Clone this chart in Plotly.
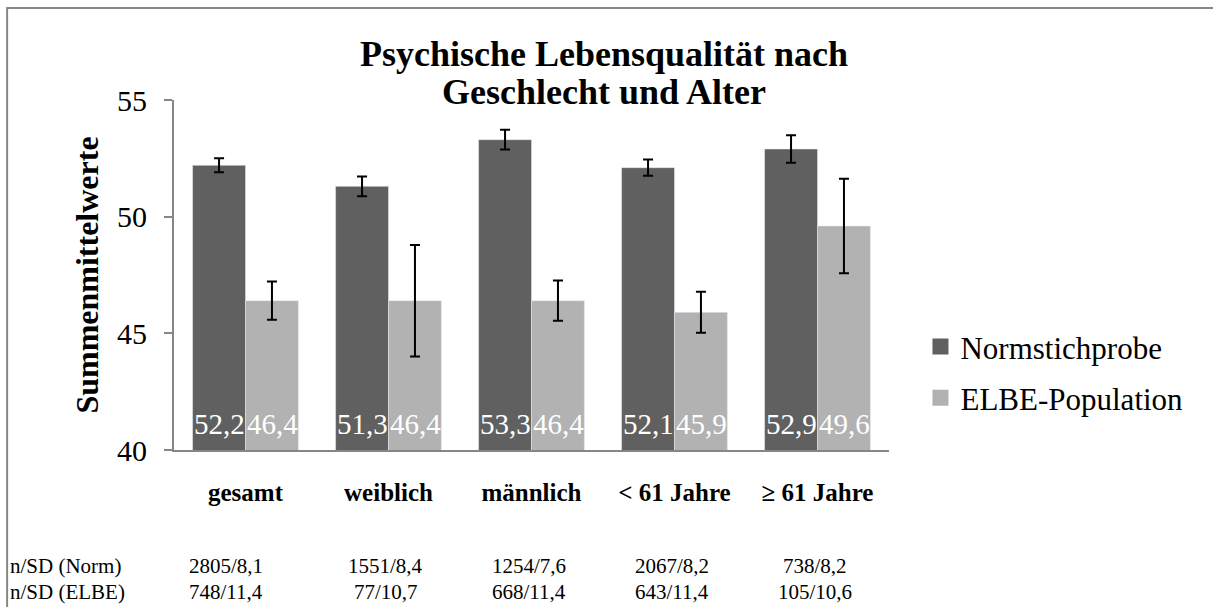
import plotly.graph_objects as go

categories = ["gesamt", "weiblich", "männlich", "< 61 Jahre", "≥ 61 Jahre"]
norm_means = [52.2, 51.3, 53.3, 52.1, 52.9]
elbe_means = [46.4, 46.4, 46.4, 45.9, 49.6]
norm_err = [0.30, 0.42, 0.42, 0.35, 0.59]
elbe_err = [0.82, 2.39, 0.86, 0.88, 2.03]
norm_table = ["2805/8,1", "1551/8,4", "1254/7,6", "2067/8,2", "738/8,2"]
elbe_table = ["748/11,4", "77/10,7", "668/11,4", "643/11,4", "105/10,6"]
row_labels = ["n/SD (Norm)", "n/SD (ELBE)"]

FONT = "Liberation Serif"
AXIS_GREY = "#868686"
DARK = "#606060"
LIGHT = "#b2b2b2"
BAR_HALF = 26.5  # half of one bar's width in px, for the value labels


def de(v):
    return f"{v:.1f}".replace(".", ",")


fig = go.Figure()
fig.add_trace(go.Bar(
    x=categories, y=norm_means, name="Normstichprobe", showlegend=False,
    marker=dict(color=DARK),
    error_y=dict(type="data", array=norm_err, color="black", thickness=2, width=5),
))
fig.add_trace(go.Bar(
    x=categories, y=elbe_means, name="ELBE-Population", showlegend=False,
    marker=dict(color=LIGHT),
    error_y=dict(type="data", array=elbe_err, color="black", thickness=2, width=5),
))
# legend entries with bigger square keys
for name, col, grp in [("Normstichprobe", DARK, "a"), ("ELBE-Population", LIGHT, "b")]:
    fig.add_trace(go.Scatter(x=[None], y=[None], mode="markers", name=name, legendgroup=grp,
                             marker=dict(symbol="square", size=16, color=col)))

annotations = [
    dict(text="<b>Psychische Lebensqualität nach</b>", x=0.601, y=1.131),
    dict(text="<b>Geschlecht und Alter</b>", x=0.601, y=1.023),
]
for a in annotations:
    a.update(xref="paper", yref="paper", showarrow=False, xanchor="center", yanchor="middle",
             font=dict(family=FONT, size=36, color="black"))

# value labels at the foot of each bar
for vals, shift in [(norm_means, -BAR_HALF), (elbe_means, BAR_HALF)]:
    for cat, v in zip(categories, vals):
        annotations.append(dict(text=de(v), xref="x", yref="y", x=cat, y=40,
                                xshift=shift, yshift=26, xanchor="center", yanchor="middle",
                                showarrow=False,
                                font=dict(family=FONT, size=29, color="white")))

# table below the chart
for row_y, row_label, row_vals in [(-0.33, row_labels[0], norm_table), (-0.405, row_labels[1], elbe_table)]:
    annotations.append(dict(text=row_label, xref="paper", yref="paper", x=-0.232, y=row_y,
                            xanchor="left", yanchor="middle", showarrow=False,
                            font=dict(family=FONT, size=21, color="black")))
    for i, (cat, val) in enumerate(zip(categories, row_vals)):
        annotations.append(dict(text=val, xref="x", yref="paper", x=cat, y=row_y,
                                xanchor="center", yanchor="middle", showarrow=False,
                                xshift=-20 if i == 0 else -3,
                                font=dict(family=FONT, size=21, color="black")))

fig.update_layout(
    width=1213, height=607,
    margin=dict(l=174, r=324, t=100, b=157),
    paper_bgcolor="white", plot_bgcolor="white",
    barmode="group", bargap=0.26, bargroupgap=0,
    font=dict(family=FONT, color="black"),
    showlegend=True,
    legend=dict(x=1.044, y=0.372, xanchor="left", yanchor="top",
                font=dict(family=FONT, size=31, color="black"),
                traceorder="grouped", tracegroupgap=8, bgcolor="rgba(0,0,0,0)"),
    annotations=annotations,
    shapes=[dict(type="rect", xref="paper", yref="paper", x0=-0.2334, x1=1.6, y0=-1.0, y1=1.263,
                 line=dict(color="#878787", width=2), fillcolor="rgba(0,0,0,0)", layer="below")],
)
fig.update_yaxes(
    range=[40, 55], dtick=5, showgrid=False, zeroline=False,
    showline=True, linecolor=AXIS_GREY, linewidth=2,
    ticks="outside", ticklen=8, tickcolor=AXIS_GREY, tickwidth=2,
    ticklabelstandoff=11,
    tickfont=dict(family=FONT, size=30, color="black"),
    title=dict(text="<b>Summenmittelwerte</b>", standoff=9,
               font=dict(family=FONT, size=32, color="black")),
)
fig.update_xaxes(
    showgrid=False, zeroline=False, showline=True, linecolor=AXIS_GREY, linewidth=2,
    ticks="", ticklabelstandoff=19,
    tickfont=dict(family=FONT, size=25, color="black", weight="bold"),
)

fig.write_html("out.html", config={"displayModeBar": False},
               post_script="document.body.style.margin='0';document.body.style.overflow='hidden';")
